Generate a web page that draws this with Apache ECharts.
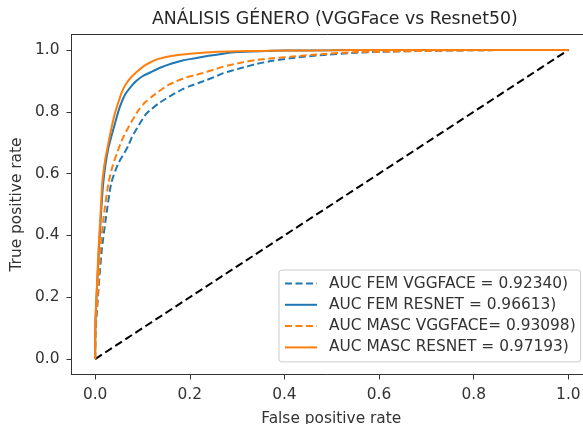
<!DOCTYPE html>
<html>
<head>
<meta charset="utf-8">
<script src="https://cdn.jsdelivr.net/npm/echarts@6/dist/echarts.min.js"></script>
<style>
  html, body { margin: 0; padding: 0; background: #fff; }
  #chart { width: 583px; height: 424px; }
</style>
</head>
<body>
<div id="chart"></div>
<script>
// ROC curves: false positive rate / true positive rate pairs per model
const femVggFpr = [0, 0.0005, 0.004, 0.008, 0.014, 0.023, 0.034, 0.048, 0.062, 0.07, 0.078, 0.092, 0.106, 0.12, 0.134, 0.15, 0.169, 0.185, 0.2, 0.218, 0.236, 0.254, 0.271, 0.305, 0.342, 0.375, 0.412, 0.482, 0.553, 0.624, 0.7, 0.8, 0.9, 1];
const femVggTpr = [0, 0.08, 0.16, 0.245, 0.353, 0.46, 0.569, 0.63, 0.668, 0.69, 0.719, 0.756, 0.79, 0.81, 0.827, 0.843, 0.86, 0.873, 0.883, 0.893, 0.903, 0.914, 0.925, 0.94, 0.955, 0.965, 0.973, 0.984, 0.991, 0.995, 0.997, 0.999, 1, 1];

const femResFpr = [0, 0.0005, 0.002, 0.004, 0.008, 0.012, 0.017, 0.027, 0.042, 0.052, 0.063, 0.074, 0.085, 0.1, 0.12, 0.14, 0.162, 0.185, 0.211, 0.24, 0.27, 0.3, 0.35, 0.4, 0.5, 0.6, 0.8, 1];
const femResTpr = [0, 0.11, 0.17, 0.235, 0.353, 0.46, 0.569, 0.676, 0.763, 0.815, 0.855, 0.878, 0.897, 0.915, 0.93, 0.944, 0.956, 0.966, 0.973, 0.981, 0.988, 0.993, 0.996, 0.998, 0.999, 1, 1, 1];

const mascVggFpr = [0, 0.0005, 0.003, 0.007, 0.011, 0.018, 0.028, 0.037, 0.047, 0.057, 0.067, 0.08, 0.092, 0.105, 0.12, 0.137, 0.155, 0.172, 0.19, 0.21, 0.229, 0.25, 0.271, 0.305, 0.342, 0.375, 0.412, 0.482, 0.553, 0.624, 0.7, 0.8, 0.9, 1];
const mascVggTpr = [0, 0.09, 0.16, 0.245, 0.353, 0.46, 0.569, 0.625, 0.67, 0.71, 0.741, 0.776, 0.806, 0.83, 0.849, 0.869, 0.887, 0.899, 0.91, 0.918, 0.926, 0.936, 0.946, 0.958, 0.968, 0.973, 0.978, 0.987, 0.993, 0.995, 0.997, 0.999, 1, 1];

const mascResFpr = [0, 0.0005, 0.002, 0.004, 0.007, 0.011, 0.015, 0.021, 0.025, 0.032, 0.04, 0.046, 0.056, 0.066, 0.078, 0.09, 0.102, 0.118, 0.134, 0.155, 0.175, 0.2, 0.226, 0.26, 0.3, 0.35, 0.4, 0.5, 0.6, 0.8, 1];
const mascResTpr = [0, 0.12, 0.18, 0.245, 0.353, 0.46, 0.569, 0.644, 0.676, 0.73, 0.785, 0.816, 0.862, 0.892, 0.915, 0.932, 0.947, 0.961, 0.971, 0.979, 0.984, 0.988, 0.991, 0.994, 0.996, 0.997, 0.998, 0.999, 1, 1, 1];

const chanceFpr = [0, 1];
const chanceTpr = [0, 1];

const seriesNames = [
  'AUC FEM VGGFACE = 0.92340)',
  'AUC FEM RESNET = 0.96613)',
  'AUC MASC VGGFACE= 0.93098)',
  'AUC MASC RESNET = 0.97193)'
];
const tickValues = [0, 0.2, 0.4, 0.6, 0.8, 1.0];

const BLUE = '#1f77b4';
const ORANGE = '#ff7f0e';
const INK = '#333';
const FONT = 'DejaVu Sans';
const LABEL_SIZE = 15.4;

function pairs(xs, ys) {
  return xs.map((x, i) => [x, ys[i]]);
}

function curve(name, xs, ys, color, dashed) {
  return {
    name: name,
    type: 'line',
    data: pairs(xs, ys),
    symbol: 'none',
    showSymbol: false,
    smooth: 0.2,
    lineStyle: { color: color, width: 2, type: dashed ? [7, 3.5] : 'solid' },
    itemStyle: { color: color },
    emphasis: { disabled: true }
  };
}

const chart = echarts.init(document.getElementById('chart'), null, { renderer: 'canvas' });

const tickStyle = { show: true, length: 5, inside: false, customValues: tickValues, lineStyle: { color: INK, width: 1 } };
const labelStyle = {
  customValues: tickValues,
  formatter: v => v.toFixed(1),
  color: INK,
  fontFamily: FONT,
  fontSize: LABEL_SIZE
};
const nameStyle = { color: INK, fontFamily: FONT, fontSize: LABEL_SIZE };
const spine = { show: true, onZero: false, lineStyle: { color: INK, width: 1 } };

chart.setOption({
  animation: false,
  backgroundColor: '#fff',
  title: {
    text: 'ANÁLISIS GÉNERO (VGGFace vs Resnet50)',
    left: 147,
    top: 6,
    textStyle: { color: '#262626', fontFamily: FONT, fontSize: 17.3, fontWeight: 'normal' }
  },
  grid: {
    left: 71.5,
    right: 0,
    top: 34.5,
    bottom: 49.5,
    show: false,
    containLabel: false,
    outerBoundsMode: 'none'
  },
  xAxis: [
    {
      type: 'value',
      position: 'bottom',
      min: -0.05,
      max: 1.031,
      splitLine: { show: false },
      axisLine: spine,
      axisTick: tickStyle,
      axisLabel: Object.assign({}, labelStyle, { margin: 13 }),
      name: 'False positive rate',
      nameLocation: 'middle',
      nameGap: 37,
      nameTextStyle: Object.assign({}, nameStyle, { padding: [0, 0, 0, 8] })
    },
    {
      // top frame line
      type: 'value',
      position: 'top',
      min: -0.05,
      max: 1.031,
      splitLine: { show: false },
      axisLine: spine,
      axisTick: { show: false },
      axisLabel: { show: false }
    }
  ],
  yAxis: {
    type: 'value',
    min: -0.05,
    max: 1.05,
    splitLine: { show: false },
    axisLine: spine,
    axisTick: tickStyle,
    axisLabel: Object.assign({}, labelStyle, { margin: 12 }),
    name: 'True positive rate',
    nameLocation: 'middle',
    nameGap: 43,
    nameTextStyle: nameStyle
  },
  legend: {
    data: seriesNames,
    orient: 'vertical',
    left: 279,
    top: 270,
    padding: [6, 5, 7, 5],
    itemGap: 6.3,
    itemWidth: 32,
    itemHeight: 14,
    backgroundColor: 'rgba(255,255,255,0.8)',
    borderColor: '#cccccc',
    borderWidth: 1,
    borderRadius: 3,
    selectedMode: false,
    itemStyle: { opacity: 0 },
    textStyle: { color: INK, fontFamily: FONT, fontSize: LABEL_SIZE, padding: [0, 0, 0, 7] }
  },
  series: [
    {
      name: 'chance',
      type: 'line',
      data: pairs(chanceFpr, chanceTpr),
      symbol: 'none',
      lineStyle: { color: '#000', width: 2, type: [8, 4] },
      itemStyle: { color: '#000' },
      emphasis: { disabled: true }
    },
    curve(seriesNames[0], femVggFpr, femVggTpr, BLUE, true),
    curve(seriesNames[1], femResFpr, femResTpr, BLUE, false),
    curve(seriesNames[2], mascVggFpr, mascVggTpr, ORANGE, true),
    curve(seriesNames[3], mascResFpr, mascResTpr, ORANGE, false)
  ]
});
</script>
</body>
</html>
